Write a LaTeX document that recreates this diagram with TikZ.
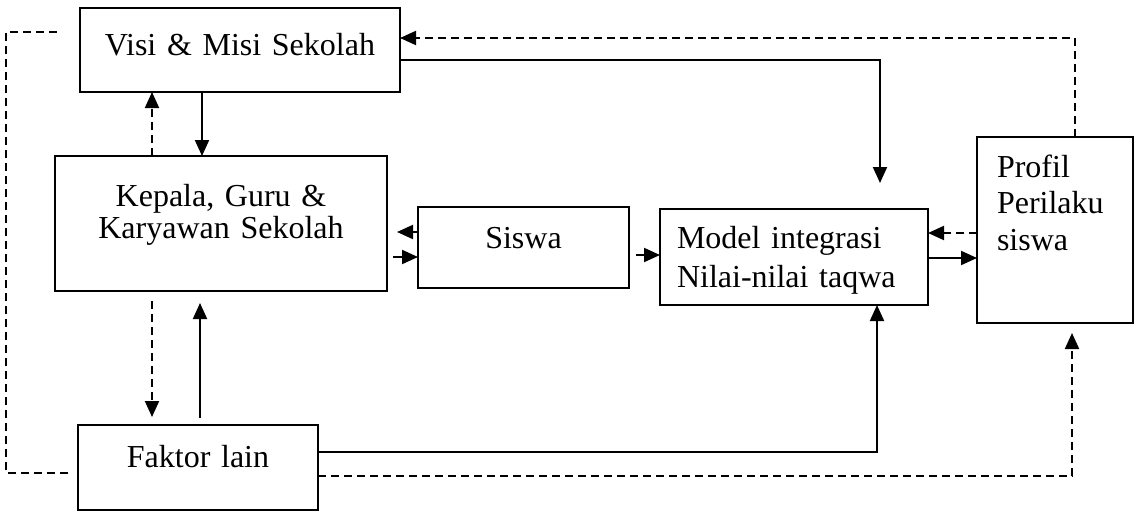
\documentclass[tikz,border=0pt]{standalone}
\usepackage{fontspec}
\setmainfont{Liberation Serif}
\usetikzlibrary{arrows.meta}
\begin{document}
\begin{tikzpicture}[x=1pt,y=-1pt,
  box/.style={draw, line width=2.4pt, inner sep=0pt, outer sep=0pt, anchor=north west},
  link/.style={line width=2pt},
  tip/.style={-{Triangle[length=16pt,width=14pt]}},
  dsh/.style={dash pattern=on 8pt off 5pt},
]
\useasboundingbox (0,0) rectangle (1135,517);
\node[box, font=\fontsize{32}{37}\selectfont, text width=320pt, text height=47pt, text depth=37pt, align=center] (visi) at (80,8) {Visi \& Misi Sekolah};
\node[box, font=\fontsize{32}{32}\selectfont, text width=332pt, text height=50pt, text depth=85pt, align=center] (kep) at (55,156) {Kepala, Guru \&\\Karyawan Sekolah};
\node[box, font=\fontsize{32}{37}\selectfont, text width=211pt, text height=41pt, text depth=40pt, align=center] (sis) at (418,207) {Siswa};
\node[box, font=\fontsize{32}{39}\selectfont, inner xsep=17pt, text width=234pt, text height=39pt, text depth=57pt, align=left] (model) at (660,209) {Model integrasi\\Nilai-nilai taqwa};
\node[box, font=\fontsize{32}{36.5}\selectfont, inner xsep=20pt, text width=116pt, text height=40pt, text depth=146pt, align=left] (prof) at (977,137) {Profil\\Perilaku\\siswa};
\node[box, font=\fontsize{32}{37}\selectfont, text width=240pt, text height=42pt, text depth=43pt, align=center] (fak) at (78,425) {Faktor lain};

\draw[link,tip] (202,0 |- visi.south) -- (202,0 |- kep.north);
\draw[link,dsh,tip] (152,0 |- kep.north) -- (152,0 |- visi.south);
\draw[link,tip,shorten >=26pt] (visi.east |- 0,60) -| (880,0 |- model.north);
\draw[link,dsh,tip] (1075,0 |- prof.north) |- (visi.east |- 0,38);
\draw[link,dsh,tip,shorten >=10pt] (sis.west |- 0,232) -- (kep.east |- 0,232);
\draw[link,tip,shorten <=6pt] (kep.east |- 0,257) -- (sis.west |- 0,257);
\draw[link,tip,shorten <=7pt] (sis.east |- 0,255) -- (model.west |- 0,255);
\draw[link,tip] (model.east |- 0,258) -- (prof.west |- 0,258);
\draw[link,dsh,tip] (prof.west |- 0,233) -- (model.east |- 0,233);
\draw[link,dsh,tip,shorten <=10pt,shorten >=8pt] (152,0 |- kep.south) -- (152,0 |- fak.north);
\draw[link,tip,shorten <=7pt,shorten >=12pt] (200,0 |- fak.north) -- (200,0 |- kep.south);
\draw[link,tip] (fak.east |- 0,452) -| (877,0 |- model.south);
\draw[link,dsh,tip,shorten >=10pt] (fak.east |- 0,476) -| (1072,0 |- prof.south);
\draw[link,dsh,shorten <=10pt,shorten >=20pt] (fak.west |- 0,473) -| (6,32) -- (visi.west |- 0,32);
\end{tikzpicture}
\end{document}
